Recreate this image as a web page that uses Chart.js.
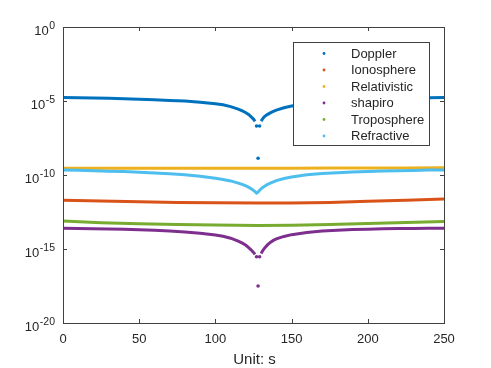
<!DOCTYPE html>
<html>
<head>
<meta charset="utf-8">
<script src="https://cdn.jsdelivr.net/npm/chart.js@4"></script>
<style>
  body { margin: 0; background: #fff; }
  canvas { display: block; }
</style>
</head>
<body>
<canvas id="graph" width="491" height="368"></canvas>
<script>
// time samples (s) for the curved series, denser around the dip
const t = [0, 10, 20, 30, 40, 50, 60, 70, 80, 90, 100, 105, 110, 115, 118, 120, 122, 124, 125, 126,
  127, 128, 129, 130, 131, 132, 134, 136, 138, 140, 145, 150, 160, 170, 180, 190, 200, 210, 220, 230, 240, 250];
// time samples for the nearly flat series
const tFlat = [0, 25, 50, 75, 100, 128, 150, 175, 200, 225, 250];

// values as log10
const doppler = [-4.77, -4.78, -4.8, -4.82, -4.85, -4.88, -4.92, -4.96, -5.0, -5.08, -5.18,
  -5.26, -5.38, -5.55, -5.68, -5.79, -5.93, -6.12, -6.22, -6.38,
  -6.69, -8.87, -6.69,
  -6.36, -6.2, -6.07, -5.92, -5.8, -5.7, -5.62, -5.46, -5.34,
  -5.2, -5.1, -5.02, -4.95, -4.9, -4.86, -4.83, -4.8, -4.78, -4.77];
const shapiro = [-13.6, -13.61, -13.63, -13.65, -13.67, -13.7, -13.74, -13.79, -13.85, -13.93, -14.05,
  -14.14, -14.27, -14.47, -14.62, -14.75, -14.92, -15.12, -15.23, -15.36,
  -15.52, -17.5, -15.52,
  -15.3, -15.12, -14.97, -14.74, -14.56, -14.42, -14.32, -14.15, -14.03,
  -13.88, -13.79, -13.73, -13.69, -13.66, -13.64, -13.62, -13.61, -13.6, -13.6];
const refractive = [-9.66, -9.68, -9.71, -9.74, -9.77, -9.81, -9.86, -9.91, -9.98, -10.08, -10.22,
  -10.3, -10.4, -10.55, -10.65, -10.74, -10.84, -10.97, -11.04, -11.13,
  -11.22, -11.16, -11.03,
  -10.93, -10.84, -10.77, -10.65, -10.55, -10.46, -10.38, -10.24, -10.13,
  -9.98, -9.9, -9.84, -9.79, -9.76, -9.73, -9.71, -9.69, -9.67, -9.66];
const ionosphere = [-11.7, -11.76, -11.81, -11.85, -11.88, -11.9, -11.89, -11.85, -11.78, -11.71, -11.63];
const troposphere = [-13.11, -13.22, -13.29, -13.34, -13.38, -13.41, -13.4, -13.35, -13.28, -13.21, -13.15];
const relativistic = [-9.55, -9.55, -9.55, -9.55, -9.54, -9.54, -9.54, -9.53, -9.53, -9.52, -9.51];

const xTicks = [0, 50, 100, 150, 200, 250];
const yTickExps = [0, -5, -10, -15, -20];
const dipTimes = [127, 128, 129];

const FONT = '"Liberation Sans", Arial, Helvetica, sans-serif';
const INK = "#262626";

function toPoints(xs, logs) {
  return xs.map((x, i) => ({ x: x, y: Math.pow(10, logs[i]) }));
}

function makeSet(label, xs, logs, color, order, withDip) {
  const isDip = x => withDip && dipTimes.indexOf(x) >= 0;
  return {
    label: label,
    data: toPoints(xs, logs),
    borderColor: color,
    backgroundColor: color,
    borderWidth: 3,
    showLine: true,
    order: order,
    pointRadius: ctx => (ctx.raw && isDip(ctx.raw.x) ? 1.8 : 0),
    pointBorderWidth: 0,
    segment: {
      borderColor: ctx => {
        const a = xs[ctx.p0DataIndex], b = xs[ctx.p1DataIndex];
        return isDip(a) || isDip(b) ? "rgba(0,0,0,0)" : color;
      },
    },
  };
}

// frame, inward ticks, tick labels and axis title
const axesPlugin = {
  id: "matlabAxes",
  afterDatasetsDraw(chart) {
    const ctx = chart.ctx;
    const a = chart.chartArea;
    const xs = chart.scales.x, ys = chart.scales.y;
    ctx.save();
    ctx.strokeStyle = "#404040";
    ctx.lineWidth = 1;
    ctx.strokeRect(Math.round(a.left) + 0.5, Math.round(a.top) + 0.5,
      Math.round(a.right - a.left), Math.round(a.bottom - a.top));
    ctx.beginPath();
    xTicks.forEach(v => {
      const px = Math.round(xs.getPixelForValue(v)) + 0.5;
      ctx.moveTo(px, a.bottom); ctx.lineTo(px, a.bottom - 4);
      ctx.moveTo(px, a.top); ctx.lineTo(px, a.top + 4);
    });
    yTickExps.forEach(e => {
      const py = Math.round(ys.getPixelForValue(Math.pow(10, e))) + 0.5;
      ctx.moveTo(a.left, py); ctx.lineTo(a.left + 4, py);
      ctx.moveTo(a.right, py); ctx.lineTo(a.right - 4, py);
    });
    ctx.stroke();

    ctx.fillStyle = INK;
    ctx.font = "13px " + FONT;
    ctx.textAlign = "center";
    ctx.textBaseline = "middle";
    xTicks.forEach(v => {
      ctx.fillText(String(v), xs.getPixelForValue(v), a.bottom + 16);
    });
    ctx.font = "15px " + FONT;
    ctx.fillText("Unit: s", (a.left + a.right) / 2 + 1, a.bottom + 37);

    ctx.textBaseline = "alphabetic";
    ctx.textAlign = "right";
    yTickExps.forEach(e => {
      const py = ys.getPixelForValue(Math.pow(10, e));
      const exp = String(e);
      ctx.font = "10.5px " + FONT;
      const ew = ctx.measureText(exp).width;
      const right = a.left - 8;
      ctx.fillText(exp, right, py + 1.5);
      ctx.font = "13px " + FONT;
      ctx.fillText("10", right - ew - 0.5, py + 8);
    });
    ctx.restore();
  },
  afterDraw(chart) {
    // legend box drawn on top of the data, like the original
    const ctx = chart.ctx;
    const sets = chart.data.datasets;
    const left = 293.5, top = 42.5, w = 136, h = 103;
    ctx.save();
    ctx.fillStyle = "#fff";
    ctx.fillRect(left, top, w, h);
    ctx.strokeStyle = "#404040";
    ctx.lineWidth = 1;
    ctx.strokeRect(left, top, w, h);
    ctx.font = "13px " + FONT;
    ctx.textAlign = "left";
    ctx.textBaseline = "middle";
    sets.forEach((ds, i) => {
      const y = 53.5 + i * 16.5;
      ctx.fillStyle = ds.borderColor;
      ctx.beginPath();
      ctx.arc(324, y, 1.4, 0, Math.PI * 2);
      ctx.fill();
      ctx.fillStyle = INK;
      ctx.fillText(ds.label, 351, y + 0.5);
    });
    ctx.restore();
  },
};

new Chart(document.getElementById("graph").getContext("2d"), {
  type: "scatter",
  data: {
    datasets: [
      makeSet("Doppler", t, doppler, "#0072BD", 5, true),
      makeSet("Ionosphere", tFlat, ionosphere, "#D95319", 4, false),
      makeSet("Relativistic", tFlat, relativistic, "#EDB120", 3, false),
      makeSet("shapiro", t, shapiro, "#7E2F8E", 2, true),
      makeSet("Troposphere", tFlat, troposphere, "#77AC30", 1, false),
      makeSet("Refractive", t, refractive, "#4DBEEE", 0, false),
    ],
  },
  options: {
    responsive: false,
    animation: false,
    layout: { padding: { left: 63, top: 27, right: 47, bottom: 45 } },
    plugins: { legend: { display: false }, tooltip: { enabled: false } },
    scales: {
      x: { type: "linear", min: 0, max: 250, display: false },
      y: { type: "logarithmic", min: 1e-20, max: 1, display: false },
    },
  },
  plugins: [axesPlugin],
});
</script>
</body>
</html>
